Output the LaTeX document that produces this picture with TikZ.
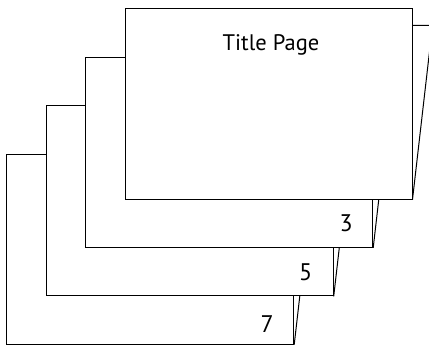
\documentclass[tikz,border=0pt]{standalone}
\usepackage{fontspec}
\setmainfont{PT Sans}
\usetikzlibrary{positioning}

\tikzset{
  page/.style={draw, fill=white, minimum width=287pt, minimum height=190pt, inner sep=0pt},
  pagenum/.style={font=\fontsize{24}{26}\selectfont, inner sep=0pt},
  pagetitle/.style={font=\fontsize{22.5}{24}\selectfont, inner sep=0pt},
}

\begin{document}
\begin{tikzpicture}[x=1pt,y=-1pt,line width=1pt]
\useasboundingbox (0,0) rectangle (429,345);

% stack of pages, back to front
\foreach \n/\x/\y in {7/150.2/249.2, 5/189.7/200.9, 3/229.2/152.4, 1/268.5/104}{
  \node[page] (p\n) at (\x,\y) {};
  \draw (p\n.north east) ++(0,17) -- ++(20,0) -- (p\n.south east);
}

\node[pagenum] (n7) at ([shift={(-27,-21)}]p7.south east) {7};
\node[pagenum] (n5) at ([shift={(-28,-24)}]p5.south east) {5};
\node[pagenum] (n3) at ([shift={(-27,-25)}]p3.south east) {3};
\node[pagetitle] (title) at ([shift={(2.5,36)}]p1.north) {Title Page};
\end{tikzpicture}
\end{document}
